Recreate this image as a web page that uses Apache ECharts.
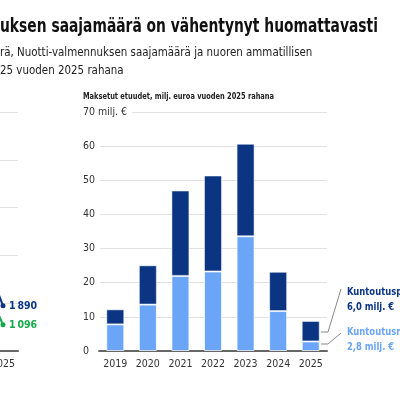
<!DOCTYPE html>
<html>
<head>
<meta charset="utf-8">
<script src="https://cdn.jsdelivr.net/npm/echarts@6/dist/echarts.min.js"></script>
<style>
  html, body { margin: 0; padding: 0; background: #fff; }
  #chart { width: 400px; height: 400px; }
</style>
</head>
<body>
<div id="chart"></div>
<script>
// right panel: paid benefits, million euros (2025 money)
const years = ["2019", "2020", "2021", "2022", "2023", "2024", "2025"];
const kuntoutusraha = [7.8, 13.6, 22.0, 23.3, 33.6, 11.7, 2.8];
const kuntoutusOther = [4.4, 11.5, 25.0, 28.1, 27.1, 11.5, 6.0];

// left panel (mostly cut off): recipients
const leftYears = ["2023", "2024", "2025"];
const leftDark = [6800, 5200, 1890];
const leftGreen = [5400, 4000, 1096];

const FONT = "'DejaVu Sans Condensed', 'DejaVu Sans', sans-serif";
const DARK = "#0b3583";
const LIGHT = "#6aa5f7";
const GREEN = "#17a84b";

const fmt = (v) => String(v).replace(/\B(?=(\d{3})+(?!\d))/g, "\u202f");

const chart = echarts.init(document.getElementById("chart"));

// squeezed text, the original uses a narrow font
const narrow = (x, y, text, font, fill, sx, extra) => ({
  type: "text", x: x, y: y, scaleX: sx, originX: 0, originY: 0,
  style: Object.assign({ text: text, font: font, fill: fill }, extra || {})
});

chart.setOption({
  animation: false,
  textStyle: { fontFamily: FONT },
  grid: [
    { left: 99, right: 73, top: 112, bottom: 49, outerBoundsMode: "none" },
    { left: -72, right: 382, top: 112, bottom: 49, outerBoundsMode: "none" }
  ],
  xAxis: [
    {
      gridIndex: 0,
      type: "category",
      data: years,
      axisTick: { show: false },
      axisLine: { lineStyle: { color: "#666", width: 2 } },
      axisLabel: { color: "#333", fontSize: 10.5, margin: 8, interval: 0 }
    },
    {
      gridIndex: 1,
      type: "category",
      data: leftYears,
      axisTick: { show: false },
      axisLine: { lineStyle: { color: "#666", width: 2 } },
      axisLabel: { color: "#333", fontSize: 10.5, margin: 8, interval: 0 }
    }
  ],
  yAxis: [
    {
      gridIndex: 0,
      type: "value",
      min: 0,
      max: 70,
      interval: 10,
      axisLine: { show: false },
      axisTick: { show: false },
      splitLine: { lineStyle: { color: "#e2e2e2" } },
      axisLabel: {
        color: "#333",
        fontSize: 10.5,
        align: "left",
        margin: 16,
        backgroundColor: "#fff",
        padding: [0, 5, 0, 0],
        formatter: (v) => (v === 70 ? "70 milj. €" : v)
      }
    },
    {
      gridIndex: 1,
      type: "value",
      min: 0,
      max: 10000,
      interval: 2000,
      axisLine: { show: false },
      axisTick: { show: false },
      axisLabel: { show: false },
      splitLine: { lineStyle: { color: "#e2e2e2" } }
    }
  ],
  series: [
    {
      name: "Kuntoutusraha",
      type: "bar",
      stack: "a",
      data: kuntoutusraha,
      barWidth: 18,
      itemStyle: { color: LIGHT, borderColor: "rgba(255,255,255,0.7)", borderWidth: 1 }
    },
    {
      name: "Kuntoutuspsykoterapia",
      type: "bar",
      stack: "a",
      data: kuntoutusOther,
      barWidth: 18,
      itemStyle: { color: DARK, borderColor: "rgba(255,255,255,0.5)", borderWidth: 1 }
    },
    {
      type: "line",
      xAxisIndex: 1,
      yAxisIndex: 1,
      data: leftDark,
      lineStyle: { color: DARK, width: 2 },
      itemStyle: { color: DARK },
      symbol: "circle",
      symbolSize: 5,
      endLabel: {
        show: true,
        distance: 6,
        color: DARK,
        fontWeight: "bold",
        fontSize: 10.5,
        formatter: (p) => fmt(p.value)
      }
    },
    {
      type: "line",
      xAxisIndex: 1,
      yAxisIndex: 1,
      data: leftGreen,
      lineStyle: { color: GREEN, width: 2 },
      itemStyle: { color: GREEN },
      symbol: "circle",
      symbolSize: 5,
      endLabel: {
        show: true,
        distance: 6,
        color: GREEN,
        fontWeight: "bold",
        fontSize: 10.5,
        formatter: (p) => fmt(p.value)
      }
    }
  ],
  graphic: [
    narrow(0, 17, "uksen saajamäärä on vähentynyt huomattavasti", "bold 20px " + FONT, "#111", 0.77),
    narrow(0, 46, "rä, Nuotti-valmennuksen saajamäärä ja nuoren ammatillisen", "13px " + FONT, "#222", 0.88),
    narrow(0, 64, "25 vuoden 2025 rahana", "13px " + FONT, "#222", 0.88),
    narrow(83, 92, "Maksetut etuudet, milj. euroa vuoden 2025 rahana", "bold 9px " + FONT, "#222", 0.82),
    narrow(347, 285, "Kuntoutuspsykoterapia\n6,0 milj. €", "bold 11px " + FONT, DARK, 0.85, { lineHeight: 15 }),
    narrow(347, 325, "Kuntoutusraha\n2,8 milj. €", "bold 11px " + FONT, LIGHT, 0.85, { lineHeight: 15 }),
    {
      type: "polyline",
      shape: { points: [[321, 332], [328, 332], [341, 289]] },
      style: { stroke: "#888", lineWidth: 1, fill: null }
    },
    {
      type: "polyline",
      shape: { points: [[321, 344], [328, 344], [341, 333]] },
      style: { stroke: "#888", lineWidth: 1, fill: null }
    }
  ]
});
</script>
</body>
</html>
